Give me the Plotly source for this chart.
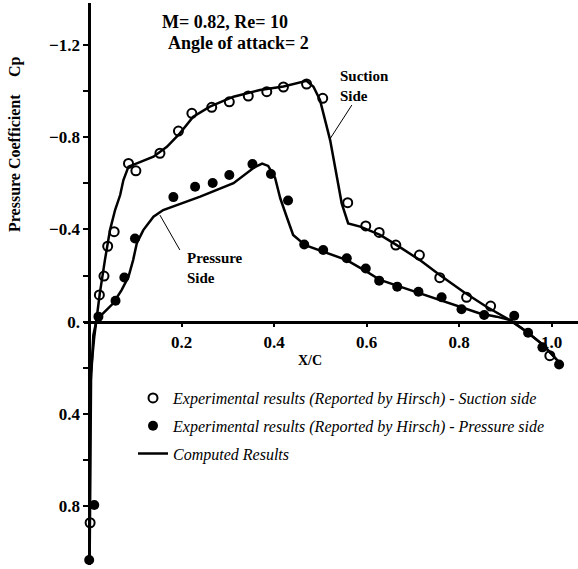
import plotly.graph_objects as go

# --- Experimental data (suction side, open circles)
suc_exp_x = [0.002, 0.022, 0.032, 0.040, 0.054, 0.085, 0.101, 0.153, 0.193, 0.222, 0.265, 0.303,
             0.344, 0.384, 0.420, 0.470, 0.505, 0.559, 0.598, 0.627, 0.663, 0.714, 0.758, 0.816,
             0.868, 0.996]
suc_exp_cp = [0.871, -0.116, -0.198, -0.327, -0.390, -0.686, -0.654, -0.730, -0.826, -0.903, -0.929, -0.953,
              -0.978, -0.997, -1.017, -1.030, -0.968, -0.516, -0.415, -0.387, -0.332, -0.289, -0.191, -0.106,
              -0.068, 0.147]

# --- Experimental data (pressure side, filled circles)
pre_exp_x = [0.000, 0.011, 0.020, 0.057, 0.076, 0.099, 0.182, 0.229, 0.267, 0.303, 0.353, 0.393,
             0.430, 0.465, 0.506, 0.557, 0.598, 0.627, 0.666, 0.712, 0.762, 0.805, 0.854, 0.919,
             0.949, 0.980, 1.016]
pre_exp_cp = [1.032, 0.794, -0.022, -0.091, -0.192, -0.361, -0.540, -0.585, -0.601, -0.636, -0.683, -0.640,
              -0.525, -0.335, -0.311, -0.275, -0.231, -0.178, -0.152, -0.130, -0.106, -0.054, -0.029, -0.026,
              0.048, 0.111, 0.185]

# --- Computed results, suction side
suc_cmp_x = [0.001, 0.002, 0.011, 0.016, 0.023, 0.034, 0.045, 0.056, 0.067, 0.074, 0.085, 0.103,
             0.139, 0.168, 0.196, 0.225, 0.261, 0.312, 0.369, 0.420, 0.470, 0.485, 0.499, 0.521,
             0.546, 0.560, 0.586, 0.629, 0.665, 0.715, 0.758, 0.809, 0.859, 0.910, 0.946, 0.982, 1.018]
suc_cmp_cp = [1.041, 0.253, 0.065, -0.022, -0.123, -0.267, -0.397, -0.484, -0.549, -0.614, -0.672, -0.686,
              -0.715, -0.758, -0.816, -0.888, -0.932, -0.975, -1.004, -1.019, -1.044, -1.018, -0.961, -0.787,
              -0.513, -0.426, -0.412, -0.376, -0.332, -0.267, -0.202, -0.130, -0.065, -0.007, 0.043, 0.101, 0.180]

# --- Computed results, pressure side
pre_cmp_x = [0.001, 0.004, 0.009, 0.016, 0.030, 0.052, 0.070, 0.085, 0.095, 0.103, 0.117, 0.139,
             0.160, 0.240, 0.312, 0.358, 0.374, 0.387, 0.402, 0.413, 0.427, 0.441, 0.467, 0.506,
             0.557, 0.600, 0.629, 0.672, 0.715, 0.758, 0.801, 0.845, 0.881, 0.910, 0.946, 0.982, 1.018]
pre_cmp_cp = [1.041, 0.253, 0.058, -0.007, -0.036, -0.080, -0.137, -0.195, -0.267, -0.340, -0.397, -0.455,
              -0.484, -0.542, -0.600, -0.670, -0.685, -0.675, -0.623, -0.536, -0.455, -0.376, -0.332, -0.303,
              -0.267, -0.217, -0.181, -0.152, -0.123, -0.094, -0.065, -0.036, -0.022, -0.007, 0.043, 0.101, 0.180]

# --- Axis ticks
x_tick_vals = [0.2, 0.4, 0.6, 0.8, 1.0]
x_tick_text = ["0.2", "0.4", "0.6", "0.8", "1.0"]
y_tick_vals = [-1.2, -1.0, -0.8, -0.6, -0.4, -0.2, 0.0, 0.2, 0.4, 0.6, 0.8]
y_tick_text = ["\u22121.2", "", "\u22120.8", "", "\u22120.4", "", "0.", "", "0.4", "", "0.8"]

SERIF = "Liberation Serif"
W, H = 578, 569
ML, MR, MT, MB = 84, 0, 3, 4
X_RANGE = [-0.0112, 1.0569]
Y_RANGE = [1.054, -1.381]

x_zero_frac = (0 - X_RANGE[0]) / (X_RANGE[1] - X_RANGE[0])
y_zero_frac = (Y_RANGE[0] - 0) / (Y_RANGE[0] - Y_RANGE[1])

fig = go.Figure()

fig.add_trace(go.Scatter(
    x=suc_exp_x, y=suc_exp_cp, mode="markers",
    name="Experimental results (Reported by Hirsch) - Suction side",
    marker=dict(symbol="circle-open", size=9, color="black", line=dict(width=2, color="black")),
    legendgroup="a"))
fig.add_trace(go.Scatter(
    x=pre_exp_x, y=pre_exp_cp, mode="markers",
    name="Experimental results (Reported by Hirsch) - Pressure side",
    marker=dict(symbol="circle", size=10, color="black"),
    legendgroup="b"))
fig.add_trace(go.Scatter(
    x=suc_cmp_x, y=suc_cmp_cp, mode="lines", name="Computed Results",
    line=dict(color="black", width=2.5), legendgroup="c"))
fig.add_trace(go.Scatter(
    x=pre_cmp_x, y=pre_cmp_cp, mode="lines", name="Computed Results",
    line=dict(color="black", width=2.5), legendgroup="c", showlegend=False))

tickfont = dict(family=SERIF, size=17, color="black", weight="bold")

PW = W - ML - MR
PH = H - MT - MB

fig.update_layout(
    width=W, height=H,
    margin=dict(l=ML, r=MR, t=MT, b=MB),
    paper_bgcolor="white", plot_bgcolor="white",
    showlegend=True,
    legend=dict(
        x=(133 - ML) / PW, y=1 - (381 - MT) / PH, xanchor="left", yanchor="top",
        font=dict(family=SERIF, size=16, color="black", style="italic"),
        tracegroupgap=4, traceorder="grouped",
        bgcolor="rgba(0,0,0,0)", itemwidth=30,
    ),
    xaxis=dict(
        range=X_RANGE, anchor="free", position=y_zero_frac,
        showline=True, linecolor="black", linewidth=2.5,
        tickvals=x_tick_vals, ticktext=x_tick_text,
        ticks="outside", ticklen=4, tickwidth=1.5, tickcolor="black",
        tickfont=tickfont, showgrid=False, zeroline=False,
    ),
    yaxis=dict(
        range=Y_RANGE, anchor="free", position=x_zero_frac,
        showline=True, linecolor="black", linewidth=2.5,
        tickvals=y_tick_vals, ticktext=y_tick_text,
        ticks="outside", ticklen=5, tickwidth=1.5, tickcolor="black",
        tickfont=tickfont, showgrid=False, zeroline=False,
    ),
)

def px_to_x(px):
    return (px - ML) / PW

def py_to_y(py):
    return 1 - (py - MT) / PH

bold = dict(family=SERIF, color="black")
annos = [
    dict(text="<b>M= 0.82, Re= 10</b>", x=px_to_x(160), y=py_to_y(22), xanchor="left", yanchor="middle", font=dict(size=18, **bold)),
    dict(text="<b>Angle of attack= 2</b>", x=px_to_x(166), y=py_to_y(43), xanchor="left", yanchor="middle", font=dict(size=18, **bold)),
    dict(text="<b>Cp</b>", x=px_to_x(15), y=py_to_y(67), textangle=-90, xanchor="center", yanchor="middle", font=dict(size=16, **bold)),
    dict(text="<b>Pressure Coefficient</b>", x=px_to_x(15), y=py_to_y(163), textangle=-90, xanchor="center", yanchor="middle", font=dict(size=16, **bold)),
    dict(text="<b>X/C</b>", x=px_to_x(310), y=py_to_y(360), xanchor="center", yanchor="middle", font=dict(size=14, **bold)),
    dict(text="<b>Suction<br>Side</b>", x=px_to_x(338), y=py_to_y(86), xanchor="left", yanchor="middle", align="left", font=dict(size=15, **bold)),
    dict(text="<b>Pressure<br>Side</b>", x=px_to_x(185), y=py_to_y(268), xanchor="left", yanchor="middle", align="left", font=dict(size=15, **bold)),
]
for a in annos:
    a["xref"] = "paper"
    a["yref"] = "paper"
    a["showarrow"] = False
    fig.add_annotation(**a)

# leader lines (data coords)
fig.add_shape(type="line", xref="x", yref="y", x0=0.568, y0=-0.939, x1=0.519, y1=-0.787, line=dict(color="black", width=1))
fig.add_shape(type="line", xref="x", yref="y", x0=0.196, y0=-0.311, x1=0.153, y1=-0.462, line=dict(color="black", width=1))

fig.write_html("out.html", config={"displayModeBar": False},
               post_script="document.body.style.margin='0';document.body.style.overflow='hidden';")
